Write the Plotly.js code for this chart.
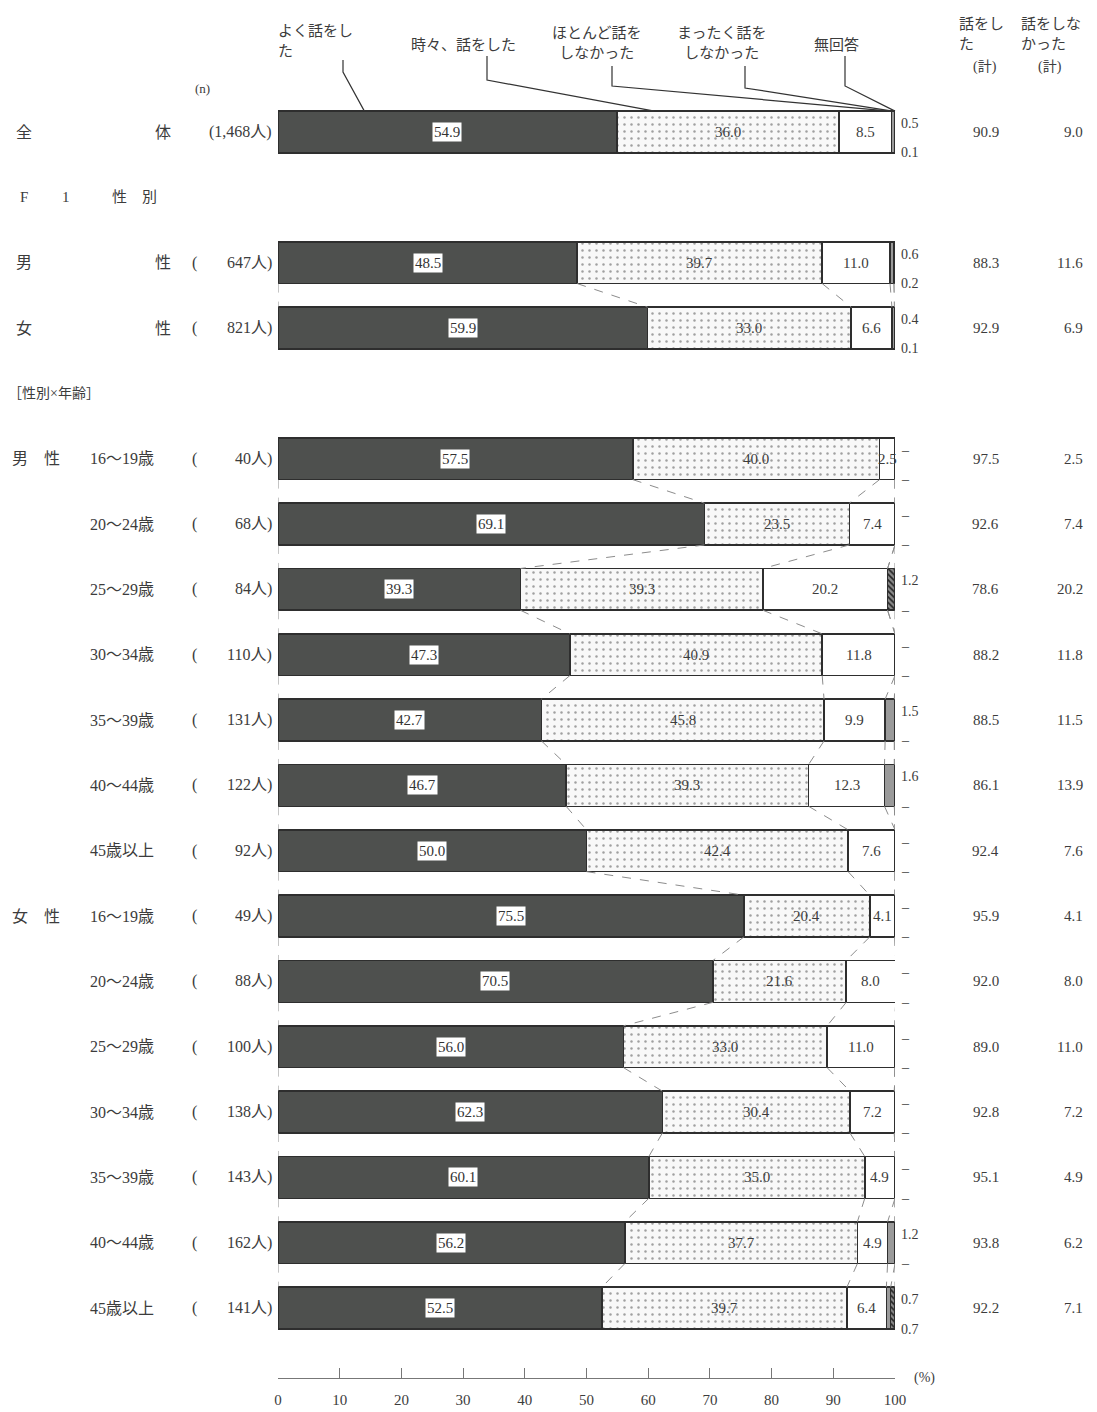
<!DOCTYPE html>
<html><head><meta charset="utf-8">
<script src="https://cdn.plot.ly/plotly-3.0.1.min.js"></script>
<style>body{margin:0;background:#fff}#chart{width:1097px;height:1412px}</style>
</head><body><div id="chart"></div>
<script>
// ---------------- data ----------------
const rowType = ["total","section","sex","sex","section",
  "age","age","age","age","age","age","age",
  "age","age","age","age","age","age","age"];
const rowLabel = ["全体","F 1 性　別","男性","女性","［性別×年齢］",
  "16～19歳","20～24歳","25～29歳","30～34歳","35～39歳","40～44歳","45歳以上",
  "16～19歳","20～24歳","25～29歳","30～34歳","35～39歳","40～44歳","45歳以上"];
const ageSex = ["","","","","","男　性","","","","","","","女　性","","","","","",""];
const nValues = [1468,null,647,821,null,40,68,84,110,131,122,92,49,88,100,138,143,162,141];

const seriesNames = ["よく話をした","時々、話をした","ほとんど話をしなかった","まったく話をしなかった","無回答"];
const s1 = [54.9,null,48.5,59.9,null,57.5,69.1,39.3,47.3,42.7,46.7,50.0,75.5,70.5,56.0,62.3,60.1,56.2,52.5];
const s2 = [36.0,null,39.7,33.0,null,40.0,23.5,39.3,40.9,45.8,39.3,42.4,20.4,21.6,33.0,30.4,35.0,37.7,39.7];
const s3 = [8.5,null,11.0,6.6,null,2.5,7.4,20.2,11.8,9.9,12.3,7.6,4.1,8.0,11.0,7.2,4.9,4.9,6.4];
const s4 = [0.5,null,0.6,0.4,null,0,0,0,0,1.5,1.6,0,0,0,0,0,0,1.2,0.7];
const s5 = [0.1,null,0.2,0.1,null,0,0,1.2,0,0,0,0,0,0,0,0,0,0,0.7];
const talkedTotal = [90.9,null,88.3,92.9,null,97.5,92.6,78.6,88.2,88.5,86.1,92.4,95.9,92.0,89.0,92.8,95.1,93.8,92.2];
const notTalkedTotal = [9.0,null,11.6,6.9,null,2.5,7.4,20.2,11.8,11.5,13.9,7.6,4.1,8.0,11.0,7.2,4.9,6.2,7.1];
const xTicks = [0,10,20,30,40,50,60,70,80,90,100];

// ---------------- layout helpers ----------------
const ML = 278, MR = 202, MT = 100, MB = 34, W = 1097, H = 1412;
const PW = W - ML - MR, PH = H - MT - MB;
const YR = [19.07, -0.49];
const BARW = 0.64;
const FONT = "'Liberation Serif', 'Noto Sans CJK JP', serif";
const TXT = "#3c3c3c";
const pxX = px => (px - ML) / PW;
const pxY = py => 1 - (py - MT) / PH;
const yPaper = y => (YR[0] - y) / (YR[0] - YR[1]);

const series = [s1, s2, s3, s4, s5];
const idx = rowType.map((t,i)=>i);
const barRows = idx.filter(i => s1[i] !== null);

const styles = [
  {color:"#4e504e"},
  {color:"#f8f8f8", pattern:{shape:".", fgcolor:"#a0a0a0", bgcolor:"#f8f8f8", size:7, solidity:0.1}},
  {color:"#ffffff"},
  {color:"#9a9a9a"},
  {color:"#777777", pattern:{shape:"\\", fgcolor:"#222", bgcolor:"#8a8a8a", size:4, solidity:0.4}}
];

const traces = [];

// dashed connectors between consecutive bars at segment boundaries
const cx = [], cy = [];
const cum = i => { let c=[0], a=0; series.forEach(s=>{a+= (s[i]||0); c.push(a);}); return c; };
for (let k = 0; k < barRows.length-1; k++) {
  const r = barRows[k], r2 = barRows[k+1];
  if (r2 !== r+1) continue;
  const c1 = cum(r), c2 = cum(r2);
  for (let b = 0; b < c1.length; b++) {
    cx.push(c1[b], c2[b], null);
    cy.push(r + BARW/2, r2 - BARW/2, null);
  }
}
traces.push({type:"scatter", mode:"lines", x:cx, y:cy, line:{color:"#8c8c8c", width:1, dash:"dash"},
  hoverinfo:"skip", showlegend:false});

series.forEach((s, k) => {
  const m = Object.assign({line:{color:"#2e2e2e", width:1.6}}, styles[k]);
  traces.push({
    type:"bar", orientation:"h", name: seriesNames[k],
    x: barRows.map(i => s[i] === 0 ? null : s[i]),
    y: barRows, width: BARW, marker: m, showlegend:false, hoverinfo:"x+name"
  });
});

const ann = [];
const A = (o) => ann.push(Object.assign({showarrow:false, yanchor:"middle", font:{family:FONT, size:15, color:TXT}}, o));

// in-bar labels
barRows.forEach(i => {
  let c = 0;
  [s1, s2, s3].forEach((s, k) => {
    const v = s[i];
    const o = {x: c + v/2, y: i, xref:"x", yref:"y", xanchor:"center", text: v.toFixed(1)};
    if (k === 0) { o.bgcolor = "#ffffff"; o.borderpad = 1; o.font = {family:FONT, size:15, color:"#333"}; }
    A(o);
    c += v;
  });
  // small values at the right end
  const a = s4[i], b = s5[i];
  let top, bot;
  if (a > 0 && b > 0) { top = a.toFixed(1); bot = b.toFixed(1); }
  else if (a > 0) { top = a.toFixed(1); bot = "–"; }
  else if (b > 0) { top = b.toFixed(1); bot = "–"; }
  else { top = "–"; bot = "–"; }
  A({x: pxX(899), xanchor:"left", xref:"paper", y: i - 0.13, yref:"y", text: top, font:{family:FONT, size:14, color:TXT}});
  A({x: pxX(899), xanchor:"left", xref:"paper", y: i + 0.32, yref:"y", text: bot, font:{family:FONT, size:14, color:TXT}});
  // totals
  A({x: pxX(1001), xanchor:"right", xref:"paper", y: i, yref:"y", text: talkedTotal[i].toFixed(1)});
  A({x: pxX(1085), xanchor:"right", xref:"paper", y: i, yref:"y", text: notTalkedTotal[i].toFixed(1)});
});

// left labels
idx.forEach(i => {
  const t = rowType[i], L = rowLabel[i];
  if (t === "total" || t === "sex") {
    A({x: pxX(14), xanchor:"left", xref:"paper", y:i, yref:"y", text: L[0], font:{family:FONT, size:16, color:TXT}});
    A({x: pxX(153), xanchor:"left", xref:"paper", y:i, yref:"y", text: L[1], font:{family:FONT, size:16, color:TXT}});
  } else if (t === "section" && i === 1) {
    const parts = L.split(" ");
    const px = [18, 60, 110];
    parts.forEach((p, j) => A({x: pxX(px[j]), xanchor:"left", xref:"paper", y:i, yref:"y", text:p}));
  } else if (t === "section") {
    A({x: pxX(6), xanchor:"left", xref:"paper", y:i, yref:"y", text: L, font:{family:FONT, size:14, color:TXT}});
  } else {
    if (ageSex[i]) A({x: pxX(10), xanchor:"left", xref:"paper", y:i, yref:"y", text: ageSex[i], font:{family:FONT, size:16, color:TXT}});
    A({x: pxX(88), xanchor:"left", xref:"paper", y:i, yref:"y", text: L, font:{family:FONT, size:16, color:TXT}});
  }
  if (nValues[i] !== null) {
    if (t !== "total") A({x: pxX(190), xanchor:"left", xref:"paper", y:i, yref:"y", text:"(", font:{family:FONT, size:16, color:TXT}});
    const n = nValues[i].toLocaleString("en-US");
    A({x: pxX(274), xanchor:"right", xref:"paper", y:i, yref:"y", text: (t==="total"?"(":"") + n + "人)", font:{family:FONT, size:16, color:TXT}});
  }
});
A({x: pxX(193), xanchor:"left", xref:"paper", y: pxY(88), yref:"paper", text:"(n)", font:{family:FONT, size:13, color:TXT}});

// legend labels with leader lines
const legendLab = [
  {text:"よく話をし<br>た", px:276, py:41, anchor:"left", align:"left", sx:343, sy:60, ky:72, tx:14},
  {text:"時々、話をした", px:463, py:45, anchor:"center", align:"center", sx:487, sy:56, ky:80, tx:61},
  {text:"ほとんど話を<br>しなかった", px:597, py:43, anchor:"center", align:"center", sx:612, sy:66, ky:86, tx:99.2},
  {text:"まったく話を<br>しなかった", px:721, py:43, anchor:"center", align:"center", sx:745, sy:66, ky:88, tx:99.6},
  {text:"無回答", px:836, py:45, anchor:"center", align:"center", sx:845, sy:56, ky:86, tx:100}
];
const shapes = [];
legendLab.forEach(l => {
  A({x: pxX(l.px), xanchor:l.anchor, align:l.align, xref:"paper", y: pxY(l.py), yref:"paper", text:l.text});
  const tx = l.tx/100, ty = yPaper(0 - BARW/2);
  shapes.push({type:"path", xref:"paper", yref:"paper",
    path:`M${pxX(l.sx)},${pxY(l.sy)} L${pxX(l.sx)},${pxY(l.ky)} L${tx},${ty}`,
    line:{color:"#333", width:1.2}});
});

// right headers
A({x: pxX(957), xanchor:"left", align:"left", xref:"paper", y: pxY(34), yref:"paper", text:"話をし<br>た"});
A({x: pxX(985), xanchor:"center", xref:"paper", y: pxY(67), yref:"paper", text:"(計)", font:{family:FONT, size:14, color:TXT}});
A({x: pxX(1019), xanchor:"left", align:"left", xref:"paper", y: pxY(34), yref:"paper", text:"話をしな<br>かった"});
A({x: pxX(1050), xanchor:"center", xref:"paper", y: pxY(67), yref:"paper", text:"(計)", font:{family:FONT, size:14, color:TXT}});

A({x: pxX(912), xanchor:"left", xref:"paper", y: pxY(1378), yref:"paper", text:"(%)", font:{family:FONT, size:14, color:TXT}});

const layout = {
  width: W, height: H, margin:{l:ML, r:MR, t:MT, b:MB},
  paper_bgcolor:"#fff", plot_bgcolor:"#fff",
  barmode:"stack", showlegend:false,
  xaxis:{range:[0,100], tickvals:xTicks, ticktext:xTicks.map(String), ticks:"inside", ticklen:10,
    tickcolor:"#777", showline:true, linecolor:"#777", linewidth:1, showgrid:false, zeroline:false,
    ticklabelstandoff:8,
    tickfont:{family:FONT, size:15, color:TXT}, fixedrange:true},
  yaxis:{range:YR, visible:false, fixedrange:true},
  annotations: ann, shapes: shapes
};
Plotly.newPlot("chart", traces, layout, {displayModeBar:false, staticPlot:true});
</script></body></html>
